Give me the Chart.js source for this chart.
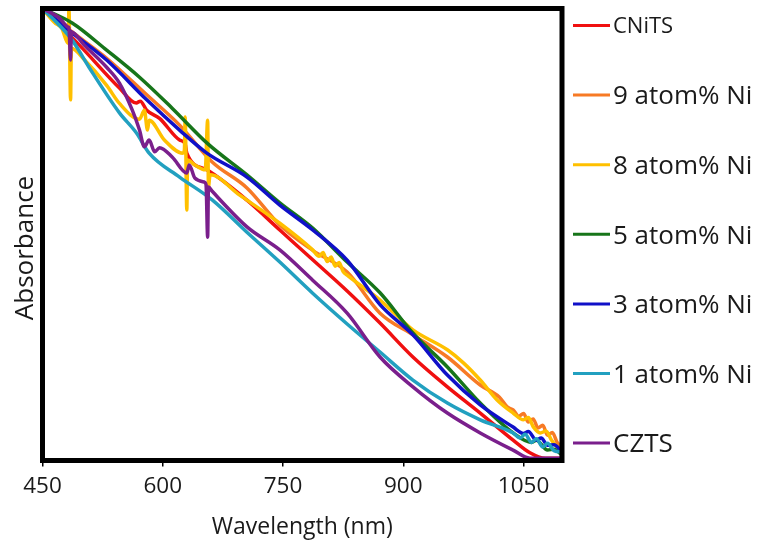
<!DOCTYPE html>
<html>
<head>
<meta charset="utf-8">
<script src="https://cdn.jsdelivr.net/npm/chart.js@4.4.1/dist/chart.umd.min.js"></script>
<style>
  html, body { margin: 0; padding: 0; background: #fff; }
  #wrap { width: 758px; height: 543px; }
</style>
</head>
<body>
<div id="wrap"><canvas id="c" width="758" height="543"></canvas></div>
<script>
// ---- Data (wavelength in nm, absorbance in arbitrary units) ----
const seriesNames = ['CNiTS', '9 atom% Ni', '8 atom% Ni', '5 atom% Ni', '3 atom% Ni', '1 atom% Ni', 'CZTS'];
const seriesColors = ['#f01010', '#f77a25', '#ffc000', '#17751a', '#1010c8', '#22a0c0', '#7a1f8c'];
const xTickValues = [450, 600, 750, 900, 1050];
const xTitle = 'Wavelength (nm)';
const yTitle = 'Absorbance';

const cnits = [[450,1.0],[496,0.919],[546,0.824],[567,0.791],[572,0.795],[580,0.775],[596,0.757],[621,0.709],[628,0.700],[630,0.680],[655,0.643],[705,0.576],[746,0.510],[787,0.444],[830,0.375],[871,0.304],[912,0.229],[955,0.163],[996,0.105],[1037,0.045],[1058,0.017],[1077,0.005],[1098,0.005]];
const ni9 = [[450,1.0],[487,0.948],[530,0.890],[580,0.809],[621,0.742],[662,0.660],[705,0.603],[746,0.521],[787,0.465],[830,0.417],[871,0.326],[912,0.278],[955,0.229],[996,0.167],[1020,0.140],[1030,0.118],[1037,0.112],[1044,0.098],[1050,0.104],[1056,0.085],[1062,0.092],[1068,0.072],[1074,0.078],[1080,0.056],[1086,0.062],[1092,0.040],[1098,0.030]];
const ni8 = [[450,1.0],[465,0.969],[474,0.956],[482,0.923],[483,1.0],[485,0.798],[486,0.912],[502,0.887],[530,0.830],[546,0.790],[571,0.755],[577,0.775],[581,0.731],[583,0.753],[602,0.709],[625,0.680],[627,0.687],[628,0.760],[630,0.554],[631,0.665],[640,0.654],[653,0.643],[656,0.753],[657,0.605],[659,0.632],[696,0.587],[746,0.525],[787,0.466],[795,0.452],[800,0.460],[805,0.440],[810,0.450],[815,0.430],[820,0.438],[825,0.418],[830,0.410],[871,0.355],[912,0.289],[955,0.245],[975,0.216],[996,0.178],[1017,0.134],[1037,0.105],[1050,0.090],[1056,0.095],[1062,0.075],[1071,0.061],[1078,0.065],[1085,0.045],[1092,0.030],[1098,0.023]];
const ni5 = [[450,1.0],[487,0.968],[530,0.908],[571,0.848],[612,0.779],[656,0.701],[705,0.632],[746,0.570],[787,0.514],[830,0.439],[871,0.371],[912,0.282],[955,0.207],[996,0.127],[1037,0.061],[1060,0.040],[1066,0.045],[1080,0.023],[1088,0.025],[1098,0.012]];
const ni3 = [[450,1.0],[487,0.946],[530,0.886],[580,0.798],[621,0.731],[655,0.680],[705,0.627],[746,0.565],[787,0.510],[830,0.443],[871,0.345],[912,0.278],[955,0.189],[996,0.123],[1037,0.074],[1050,0.060],[1056,0.064],[1066,0.045],[1072,0.050],[1080,0.034],[1088,0.035],[1098,0.019]];
const ni1 = [[450,1.0],[471,0.963],[487,0.930],[508,0.870],[546,0.769],[567,0.725],[583,0.680],[621,0.627],[662,0.576],[705,0.505],[746,0.439],[787,0.370],[830,0.302],[871,0.240],[912,0.178],[955,0.127],[996,0.090],[1037,0.061],[1046,0.050],[1052,0.058],[1060,0.040],[1066,0.048],[1074,0.030],[1080,0.038],[1088,0.022],[1098,0.019]];
const czts = [[450,1.0],[471,0.979],[482,0.959],[483,0.957],[485,0.886],[486,0.948],[502,0.919],[530,0.870],[546,0.835],[562,0.775],[571,0.731],[577,0.694],[583,0.709],[590,0.683],[596,0.692],[612,0.671],[630,0.636],[633,0.654],[640,0.625],[652,0.616],[654,0.610],[656,0.494],[657,0.605],[662,0.595],[705,0.517],[746,0.466],[787,0.399],[830,0.326],[871,0.229],[912,0.163],[955,0.105],[996,0.061],[1037,0.023],[1058,0.005],[1098,0.005]];

const seriesData = [cnits, ni9, ni8, ni5, ni3, ni1, czts];

const FONT = "'Open Sans', 'Noto Sans', sans-serif";
const TEXT = '#1a1a1a';

const framePlugin = {
  id: 'frameLegend',
  afterDatasetsDraw(chart) {
    const { ctx, chartArea: a } = chart;
    ctx.save();
    ctx.lineWidth = 5;
    ctx.strokeStyle = '#000';
    ctx.strokeRect(a.left, a.top, a.right - a.left, a.bottom - a.top);
    ctx.restore();
  },
  afterDraw(chart) {
    const { ctx, chartArea: a } = chart;
    ctx.save();
    // legend
    const x0 = a.right + 11, x1 = a.right + 48;
    seriesNames.forEach((name, i) => {
      const y = 25.5 + i * 69.6;
      ctx.strokeStyle = seriesColors[i];
      ctx.lineWidth = 3;
      ctx.beginPath();
      ctx.moveTo(x0, y);
      ctx.lineTo(x1, y);
      ctx.stroke();
      const size = (i === 0) ? 22 : 26;
      ctx.font = size + 'px ' + FONT;
      ctx.fillStyle = TEXT;
      ctx.textAlign = 'left';
      ctx.textBaseline = 'alphabetic';
      ctx.fillText(name, x1 + 3, y + size * 0.357);
    });
    // y-axis title
    ctx.translate(33, 248);
    ctx.rotate(-Math.PI / 2);
    ctx.font = '26px ' + FONT;
    ctx.fillStyle = TEXT;
    ctx.textAlign = 'center';
    ctx.textBaseline = 'alphabetic';
    ctx.fillText(yTitle, 0, 0);
    ctx.restore();
  }
};

new Chart(document.getElementById('c'), {
  type: 'line',
  data: {
    datasets: seriesNames.map((name, i) => ({
      label: name,
      data: seriesData[i].map(([x, y]) => ({ x, y })),
      borderColor: seriesColors[i],
      backgroundColor: seriesColors[i],
      borderWidth: 3.5,
      pointRadius: 0,
      cubicInterpolationMode: 'monotone',
      borderJoinStyle: 'round',
      borderCapStyle: 'round',
      fill: false,
      order: seriesNames.length - i
    }))
  },
  options: {
    responsive: false,
    animation: false,
    devicePixelRatio: 1,
    layout: { padding: { left: 0, top: 8.5, right: 196, bottom: 0 } },
    plugins: { legend: { display: false }, tooltip: { enabled: false } },
    scales: {
      x: {
        type: 'linear',
        min: 450,
        max: 1098,
        afterFit(s) { s.height = 82.5; },
        afterBuildTicks(s) { s.ticks = xTickValues.map(v => ({ value: v })); },
        border: { display: false },
        grid: { display: true, drawOnChartArea: false, drawTicks: true, tickLength: 6, color: '#000', lineWidth: 1.5 },
        ticks: { color: TEXT, font: { family: FONT, size: 22.5 }, padding: 7, maxRotation: 0, autoSkip: false,
                 callback: v => String(v) },
        title: { display: true, text: xTitle, color: TEXT, font: { family: FONT, size: 23 }, padding: { top: 0, bottom: 2 } }
      },
      y: {
        min: 0,
        max: 1,
        afterFit(s) { s.width = 42.5; },
        border: { display: false },
        grid: { display: false },
        ticks: { display: false },
        title: { display: false }
      }
    }
  },
  plugins: [framePlugin]
});
</script>
</body>
</html>
